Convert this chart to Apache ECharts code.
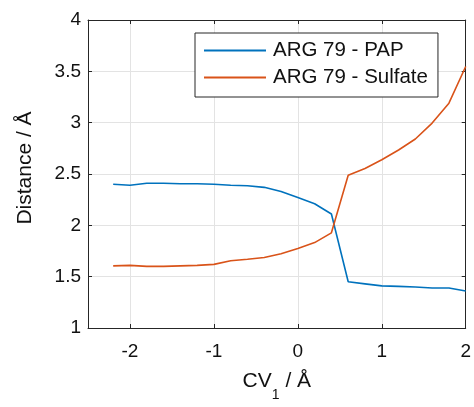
<!DOCTYPE html>
<html>
<head>
<meta charset="utf-8">
<script src="https://cdn.jsdelivr.net/npm/echarts@6/dist/echarts.min.js"></script>
<style>
  html, body { margin: 0; padding: 0; background: #fff; }
  #chart { width: 474px; height: 407px; }
</style>
</head>
<body>
<div id="chart"></div>
<script>
// Collective variable CV1 (Å)
const cv = [-2.2, -2.0, -1.8, -1.6, -1.4, -1.2, -1.0, -0.8, -0.6, -0.4, -0.2, 0.0,
            0.2, 0.4, 0.6, 0.8, 1.0, 1.2, 1.4, 1.6, 1.8, 2.0];
// ARG 79 – PAP distance (Å)
const papDist = [2.40, 2.39, 2.41, 2.41, 2.405, 2.405, 2.40, 2.39, 2.385, 2.37, 2.33, 2.27,
                 2.21, 2.11, 1.45, 1.43, 1.41, 1.405, 1.40, 1.39, 1.39, 1.36];
// ARG 79 – Sulfate distance (Å)
const sulfateDist = [1.605, 1.61, 1.60, 1.60, 1.605, 1.61, 1.62, 1.655, 1.67, 1.686, 1.724, 1.775,
                     1.832, 1.927, 2.487, 2.554, 2.639, 2.734, 2.841, 2.996, 3.19, 3.547];
// Tick positions
const xTicks = [-2, -1, 0, 1, 2];
const yTicks = [1, 1.5, 2, 2.5, 3, 3.5, 4];

const FONT = '"Liberation Sans", Arial, Helvetica, sans-serif';
const AXIS_COLOR = '#262626';
const TEXT_COLOR = '#111111';
const GRID_COLOR = '#e3e3e3';

const pairs = (xs, ys) => xs.map((x, i) => [x, ys[i]]);

const baseX = {
  type: 'value', min: -2.5, max: 2,
  axisLine: { show: true, onZero: false, lineStyle: { color: AXIS_COLOR, width: 1 } },
  axisTick: { show: true, inside: true, length: 4, customValues: xTicks, lineStyle: { color: AXIS_COLOR } },
  splitLine: { show: false }
};
const baseY = {
  type: 'value', min: yTicks[0], max: yTicks[yTicks.length - 1], interval: 0.5,
  axisLine: { show: true, onZero: false, lineStyle: { color: AXIS_COLOR, width: 1 } },
  axisTick: { show: true, inside: true, length: 4, lineStyle: { color: AXIS_COLOR } },
  splitLine: { show: false }
};

const chart = echarts.init(document.getElementById('chart'), null, { renderer: 'canvas' });
chart.setOption({
  animation: false,
  backgroundColor: '#ffffff',
  textStyle: { fontFamily: FONT },
  grid: { left: 88, right: 8, top: 20, bottom: 70, containLabel: false },
  legend: {
    orient: 'vertical',
    left: 195, top: 33,
    padding: [7, 10, 9, 9],
    itemGap: 6,
    itemWidth: 62, itemHeight: 2,
    icon: 'rect',
    backgroundColor: '#ffffff',
    borderColor: AXIS_COLOR, borderWidth: 1, borderRadius: 0,
    textStyle: { fontFamily: FONT, fontSize: 20.5, color: TEXT_COLOR, padding: [0, 0, 0, 2] },
    data: ['ARG 79 - PAP', 'ARG 79 - Sulfate']
  },
  xAxis: [
    Object.assign({}, baseX, {
      position: 'bottom',
      axisLabel: { show: true, customValues: xTicks, fontSize: 19, color: TEXT_COLOR, margin: 14, fontFamily: FONT },
      splitLine: { show: true, lineStyle: { color: GRID_COLOR, width: 1 } },
      name: '{m|CV}{s|1}{m| / Å}',
      nameLocation: 'middle',
      nameGap: 43,
      nameTextStyle: {
        rich: {
          m: { fontSize: 21, color: TEXT_COLOR, fontFamily: FONT },
          s: { fontSize: 14, color: TEXT_COLOR, fontFamily: FONT, verticalAlign: 'bottom', padding: [0, 0, -10, 0] }
        }
      }
    }),
    Object.assign({}, baseX, { position: 'top', axisLabel: { show: false } })
  ],
  yAxis: [
    Object.assign({}, baseY, {
      position: 'left',
      axisLabel: { show: true, fontSize: 19, color: TEXT_COLOR, margin: 7, fontFamily: FONT },
      splitLine: { show: true, lineStyle: { color: GRID_COLOR, width: 1 } },
      name: 'Distance / Å',
      nameLocation: 'middle',
      nameGap: 52,
      nameTextStyle: { fontSize: 21, color: TEXT_COLOR, fontFamily: FONT, padding: [0, 0, 0, 12] }
    }),
    Object.assign({}, baseY, { position: 'right', axisLabel: { show: false } })
  ],
  series: [
    {
      name: 'ARG 79 - PAP', type: 'line', xAxisIndex: 0, yAxisIndex: 0,
      data: pairs(cv, papDist), symbol: 'none',
      lineStyle: { color: '#0072BD', width: 1.6 }, itemStyle: { color: '#0072BD' }
    },
    {
      name: 'ARG 79 - Sulfate', type: 'line', xAxisIndex: 0, yAxisIndex: 0,
      data: pairs(cv, sulfateDist), symbol: 'none',
      lineStyle: { color: '#D95319', width: 1.6 }, itemStyle: { color: '#D95319' }
    }
  ]
});
</script>
</body>
</html>
